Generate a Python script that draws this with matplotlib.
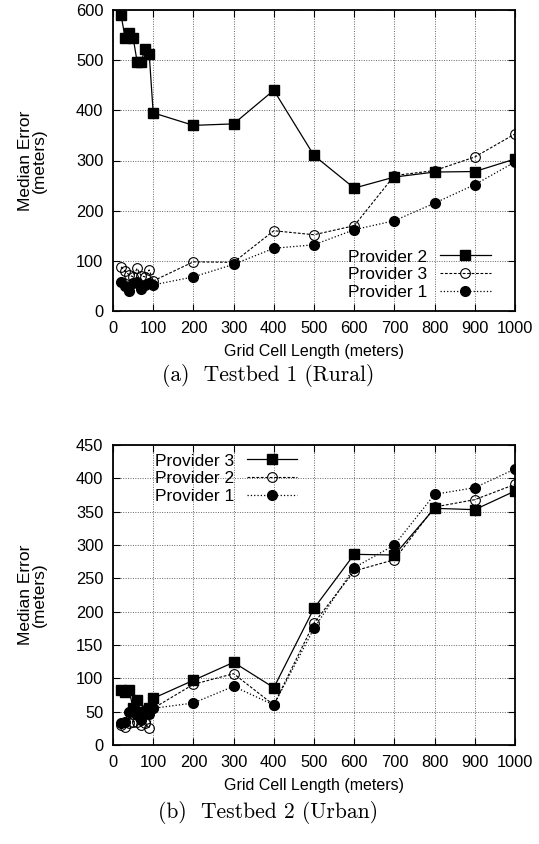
import matplotlib.pyplot as plt

plt.rcParams['font.family'] = ['Liberation Sans', 'DejaVu Sans']

# grid cell lengths (meters)
cell = [20, 30, 40, 50, 60, 70, 80, 90, 100,
        200, 300, 400, 500, 600, 700, 800, 900, 1000]

# Testbed 1 (Rural)
rural_p2 = [590, 545, 554, 545, 497, 497, 523, 513, 395,
            370, 373, 440, 310, 245, 267, 277, 278, 303]
rural_p3 = [88, 80, 72, 68, 85, 70, 68, 82, 60,
            98, 97, 160, 152, 170, 270, 280, 307, 353]
rural_p1 = [57, 50, 40, 55, 57, 44, 52, 55, 52,
            68, 93, 125, 132, 162, 180, 215, 252, 297]

# Testbed 2 (Urban)
urban_p3 = [83, 80, 82, 55, 68, 48, 50, 55, 70,
            97, 124, 86, 205, 286, 285, 355, 353, 381]
urban_p2 = [30, 27, 33, 35, 35, 30, 33, 25, 55,
            91, 107, 60, 183, 261, 278, 357, 368, 391]
urban_p1 = [33, 35, 50, 52, 45, 38, 52, 47, 55,
            63, 88, 60, 175, 266, 300, 376, 386, 414]

W, H = 539, 844
fig = plt.figure(figsize=(W / 100, H / 100), dpi=100)


def px(l, t, r, b):
    return [l / W, 1 - b / H, (r - l) / W, (b - t) / H]


def style(ax, ymax, ystep):
    ax.set_xlim(0, 1000)
    ax.set_ylim(0, ymax)
    ax.set_xticks(range(0, 1001, 100))
    ax.set_yticks(range(0, ymax + 1, ystep))
    ax.tick_params(direction='in', top=True, right=True, labelsize=11.8,
                   length=5, width=0.8, pad=7)
    ax.grid(True, linestyle=(0, (1, 1.5)), color='0.4', linewidth=0.7)
    for s in ax.spines.values():
        s.set_linewidth(1.3)
    ax.set_xlabel('Grid Cell Length (meters)', fontsize=11.5, labelpad=6)
    ax.set_ylabel('Median Error\n(meters)', fontsize=12.5, linespacing=0.9)
    ax.yaxis.set_label_coords(-0.165, 0.5)


def add_legend(ax, cx, cy):
    ax.legend(loc='center', bbox_to_anchor=(cx, cy), markerfirst=False,
              frameon=False, fontsize=12.5, handlelength=2.9,
              handletextpad=0.75, labelspacing=0.16, borderpad=0.1)


# (a)
ax1 = fig.add_axes(px(113, 10, 515, 311))
ax1.plot(cell, rural_p2, '-', color='k', lw=0.9, marker='s', ms=7, mfc='k', label='Provider 2')
ax1.plot(cell, rural_p3, '--', color='k', lw=0.8, dashes=(2.5, 1.5), marker='o', ms=7, mfc='none', mew=0.8, label='Provider 3')
ax1.plot(cell, rural_p1, ':', color='k', lw=0.9, marker='o', ms=7, mfc='k', label='Provider 1')
style(ax1, 600, 100)
add_legend(ax1, 0.762, 0.12)
fig.text(268 / W, 1 - 376 / H, '(a)  Testbed 1 (Rural)', family='cmr10',
         fontsize=15.5, ha='center', va='center')

# (b)
ax2 = fig.add_axes(px(113, 445, 515, 745))
ax2.plot(cell, urban_p3, '-', color='k', lw=0.9, marker='s', ms=7, mfc='k', label='Provider 3')
ax2.plot(cell, urban_p2, '--', color='k', lw=0.8, dashes=(2.5, 1.5), marker='o', ms=7, mfc='none', mew=0.8, label='Provider 2')
ax2.plot(cell, urban_p1, ':', color='k', lw=0.9, marker='o', ms=7, mfc='k', label='Provider 1')
style(ax2, 450, 50)
add_legend(ax2, 0.281, 0.887)
fig.text(268 / W, 1 - 812 / H, '(b)  Testbed 2 (Urban)', family='cmr10',
         fontsize=15.5, ha='center', va='center')

fig.savefig('out.png', dpi=100)
